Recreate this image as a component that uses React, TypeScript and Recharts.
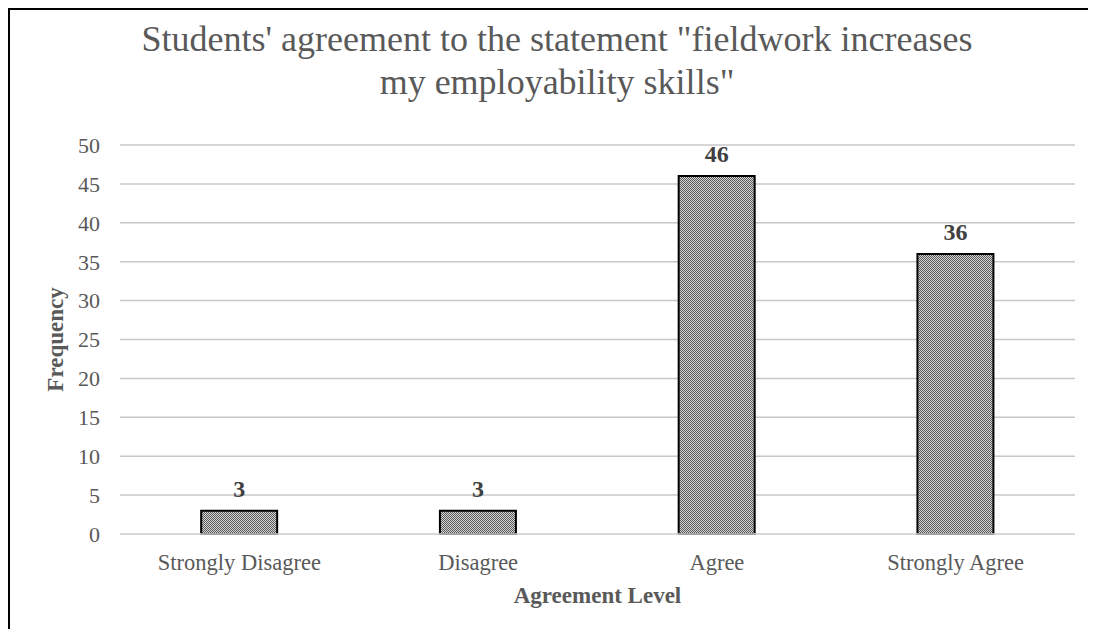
import React from "react";
import { BarChart, Bar, XAxis, YAxis, CartesianGrid, LabelList } from "recharts";

const categories = ["Strongly Disagree", "Disagree", "Agree", "Strongly Agree"];
const frequencies = [3, 3, 46, 36];
const yTicks = [0, 5, 10, 15, 20, 25, 30, 35, 40, 45, 50];
const titleLines = [
  "Students' agreement to the statement \"fieldwork increases",
  "my employability skills\"",
];

const data = categories.map((c, i) => ({ name: c, value: frequencies[i] }));

const FONT = "'Liberation Serif', 'Times New Roman', serif";
const GREY = "#595959";

export default function App() {
  return (
    <div
      style={{
        position: "relative",
        width: 1080,
        height: 621,
        boxSizing: "border-box",
        fontFamily: FONT,
        overflow: "hidden",
      }}
    >
      <style>{`html, body { overflow: hidden; background: #fff; }`}</style>
      <div
        style={{
          position: "absolute",
          left: 0,
          top: 0,
          width: 2,
          height: 621,
          background: "#000",
        }}
      />
      <div
        style={{
          position: "absolute",
          left: 0,
          top: 0,
          width: 1080,
          height: 2,
          background: "#000",
        }}
      />
      <div
        style={{
          position: "absolute",
          left: 2,
          width: 1094,
          top: 10,
          textAlign: "center",
          fontSize: 36,
          lineHeight: "43px",
          color: GREY,
          fontFamily: FONT,
          whiteSpace: "nowrap",
        }}
      >
        {titleLines.map((l) => (
          <div key={l}>{l}</div>
        ))}
      </div>
      <div style={{ position: "absolute", left: 2, top: 2 }}>
        <BarChart
          width={1078}
          height={619}
          data={data}
          margin={{ top: 135, right: 13, left: 0, bottom: 20 }}
          barCategoryGap="34%"
        >
          <defs>
            <pattern id="dots" width="2" height="2" patternUnits="userSpaceOnUse">
              <rect x="0" y="0" width="2" height="2" fill="#d4d4d4" />
              <rect x="0" y="0" width="1" height="1" fill="#5a5a5a" />
              <rect x="1" y="1" width="1" height="1" fill="#5a5a5a" />
            </pattern>
          </defs>
          <CartesianGrid vertical={false} stroke="#c8c8c8" strokeWidth={1.5} />
          <XAxis
            dataKey="name"
            axisLine={{ stroke: "#d9d9d9", strokeWidth: 1.5 }}
            tickLine={false}
            tickSize={0}
            tickMargin={20}
            height={75}
            tick={{ fill: GREY, fontSize: 22.5, fontFamily: FONT }}
            label={{
              value: "Agreement Level",
              position: "insideBottom",
              offset: 6,
              fill: GREY,
              fontSize: 23,
              fontWeight: "bold",
              fontFamily: FONT,
            }}
          />
          <YAxis
            domain={[0, 50]}
            ticks={yTicks}
            interval={0}
            axisLine={false}
            tickLine={false}
            tickSize={0}
            tickMargin={20}
            width={110}
            tick={{ fill: GREY, fontSize: 22, fontFamily: FONT }}
            label={{
              value: "Frequency",
              angle: -90,
              position: "insideLeft",
              offset: 45,
              style: { textAnchor: "middle" },
              fill: GREY,
              fontSize: 23,
              fontWeight: "bold",
              fontFamily: FONT,
            }}
          />
          <Bar
            dataKey="value"
            fill="url(#dots)"
            stroke="#000"
            strokeWidth={2}
            isAnimationActive={false}
          >
            <LabelList
              dataKey="value"
              position="top"
              offset={14}
              fill="#404040"
              fontSize={24}
              fontWeight="bold"
              fontFamily={FONT}
            />
          </Bar>
        </BarChart>
      </div>
    </div>
  );
}
